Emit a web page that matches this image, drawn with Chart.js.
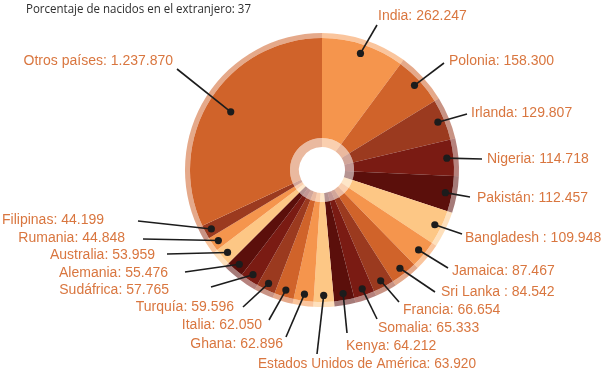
<!DOCTYPE html>
<html>
<head>
<meta charset="utf-8">
<script src="https://cdn.jsdelivr.net/npm/chart.js@4.4.1/dist/chart.umd.min.js"></script>
<style>
  html, body { margin: 0; padding: 0; background: #fff; }
  #wrap { position: relative; width: 603px; height: 372px; }
</style>
</head>
<body>
<div id="wrap"><canvas id="chart" width="603" height="372"></canvas></div>
<script>
// ── data ─────────────────────────────────────────────────────────────────────
const titleText = 'Porcentaje de nacidos en el extranjero: 37';

// clockwise from 12 o'clock
const countries = [
    'India', 'Polonia', 'Irlanda', 'Nigeria', 'Pakistán', 'Bangladesh ',
    'Jamaica', 'Sri Lanka ', 'Francia', 'Somalia', 'Kenya',
    'Estados Unidos de América', 'Ghana', 'Italia', 'Turquía', 'Sudáfrica',
    'Alemania', 'Australia', 'Rumania', 'Filipinas', 'Otros países'
];
const births = [
    262247, 158300, 129807, 114718, 112457, 109948,
    87467, 84542, 66654, 65333, 64212,
    63920, 62896, 62050, 59596, 57765,
    55476, 53959, 44848, 44199, 1237870
];
// The source does not draw "Otros países" to scale: its slice covers about
// 115 degrees, i.e. roughly 826 000 on the scale of the other slices.
const sliceValues = births.slice(0, -1).concat([826000]);

// ── styles / layout ──────────────────────────────────────────────────────────
const L = '#F5954D', M = '#D0632A', R = '#9B3A1F', D = '#7A1B13', V = '#5B0F0B', P = '#FDC785';
const sliceColors = [L, M, R, D, V, P, L, M, R, D, V, P, L, M, R, D, V, P, L, R, M];

function withAlpha(hex, a) {
    const n = parseInt(hex.slice(1), 16);
    return `rgba(${n >> 16},${(n >> 8) & 255},${n & 255},${a})`;
}
const outerRingColors = sliceColors.map(c => withAlpha(c, 0.55));
const innerRingColors = sliceColors.map(c => withAlpha(c, 0.45));

// callout text anchor [x, y, align], leader line end [x, y], dot depth (fraction of radius)
const callouts = [
    { text: [378, 15, 'left'],  line: [377, 25],  depth: 0.93 },
    { text: [449, 60, 'left'],  line: [444, 63],  depth: 0.95 },
    { text: [471, 112, 'left'], line: [467, 114], depth: 0.95 },
    { text: [487, 158, 'left'], line: [482, 159], depth: 0.95 },
    { text: [477, 197, 'left'], line: [470, 197], depth: 0.95 },
    { text: [465, 237, 'left'], line: [462, 234], depth: 0.95 },
    { text: [452, 270, 'left'], line: [448, 268], depth: 0.95 },
    { text: [441, 291, 'left'], line: [435, 292], depth: 0.95 },
    { text: [403, 309, 'left'], line: [399, 302], depth: 0.95 },
    { text: [378, 327, 'left'], line: [377, 319], depth: 0.95 },
    { text: [346, 345, 'left'], line: [347, 333], depth: 0.95 },
    { text: [258, 363, 'left'], line: [317, 354], depth: 0.95 },
    { text: [283, 343, 'right'], line: [286, 337], depth: 0.95 },
    { text: [262, 324, 'right'], line: [269, 320], depth: 0.95 },
    { text: [234, 306, 'right'], line: [243, 307], depth: 0.95 },
    { text: [169, 289, 'right'], line: [211, 287], depth: 0.95 },
    { text: [168, 272, 'right'], line: [185, 272], depth: 0.95 },
    { text: [155, 254, 'right'], line: [167, 254], depth: 0.95 },
    { text: [125, 237, 'right'], line: [143, 239], depth: 0.95 },
    { text: [104, 219, 'right'], line: [138, 221], depth: 0.95 },
    { text: [173, 60, 'right'], line: [177, 69],  depth: 0.82 }
];

function fmtThousands(v) {
    return String(v).replace(/\B(?=(\d{3})+(?!\d))/g, '.');
}

// ── callouts + title, drawn after the doughnut ───────────────────────────────
const calloutPlugin = {
    id: 'callouts',
    afterDraw(chart) {
        const ctx = chart.ctx;
        const arcs = chart.getDatasetMeta(1).data;
        ctx.save();

        arcs.forEach((arc, i) => {
            const p = arc.getProps(['x', 'y', 'startAngle', 'endAngle', 'outerRadius'], true);
            const mid = (p.startAngle + p.endAngle) / 2;
            const r = p.outerRadius * callouts[i].depth;
            const dx = p.x + Math.cos(mid) * r;
            const dy = p.y + Math.sin(mid) * r;
            const c = callouts[i];

            ctx.strokeStyle = '#1c1c1c';
            ctx.lineWidth = 1.6;
            ctx.beginPath();
            ctx.moveTo(dx, dy);
            ctx.lineTo(c.line[0], c.line[1]);
            ctx.stroke();

            ctx.fillStyle = '#1c1c1c';
            ctx.beginPath();
            ctx.arc(dx, dy, 3.6, 0, Math.PI * 2);
            ctx.fill();

            ctx.fillStyle = '#D9763F';
            ctx.font = '14px "Liberation Sans", Arial, sans-serif';
            ctx.textAlign = c.text[2];
            ctx.textBaseline = 'alphabetic';
            ctx.fillText(`${countries[i]}: ${fmtThousands(births[i])}`, c.text[0], c.text[1] + 5, c.text[2] === 'left' && i === 11 ? 218 : undefined);
        });

        ctx.fillStyle = '#2e2e2e';
        ctx.font = '12.5px "Open Sans", sans-serif';
        ctx.textAlign = 'left';
        ctx.fillText(titleText, 26, 13, 225);
        ctx.restore();
    }
};

const ctx = document.getElementById('chart').getContext('2d');
new Chart(ctx, {
    type: 'doughnut',
    data: {
        labels: countries,
        datasets: [
            { data: sliceValues, backgroundColor: outerRingColors, weight: 5 },
            { data: sliceValues, backgroundColor: sliceColors, weight: 100 },
            { data: sliceValues, backgroundColor: innerRingColors, weight: 9 }
        ]
    },
    options: {
        responsive: false,
        animation: false,
        events: [],
        cutout: 23,
        layout: { padding: { left: 185, right: 144, top: 33, bottom: 65 } },
        elements: { arc: { borderWidth: 0, hoverBorderWidth: 0, hoverOffset: 0, offset: 0 } },
        plugins: {
            legend: { display: false },
            tooltip: { enabled: false }
        }
    },
    plugins: [calloutPlugin]
});
</script>
</body>
</html>
